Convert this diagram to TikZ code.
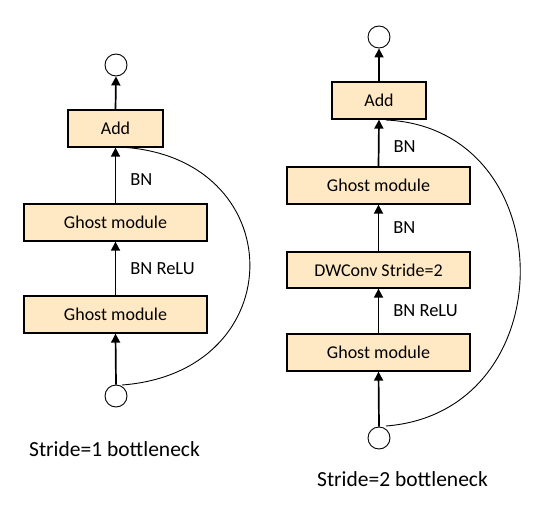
\documentclass[tikz,border=0pt]{standalone}
\usepackage{fontspec}
\setmainfont{Carlito}
\usetikzlibrary{arrows.meta}
\definecolor{boxfill}{HTML}{FFE9C4}
\begin{document}
\begin{tikzpicture}[x=1pt,y=-1pt,
  blockbox/.style={draw=black,line width=1.3pt,fill=boxfill,inner sep=0pt,font=\fontsize{18}{21}\selectfont},
  endcirc/.style={draw=black,line width=0.9pt,circle,minimum size=22pt,inner sep=0pt},
  flowarrow/.style={line width=1.7pt,-{Triangle[length=9pt,width=9pt]}},
  labeltext/.style={font=\fontsize{18.5}{22}\selectfont,anchor=west,inner sep=0pt},
  captiontext/.style={font=\fontsize{21.5}{25}\selectfont,inner sep=0pt},
  skipline/.style={line width=0.9pt}]
\useasboundingbox (0,0) rectangle (545,511);
% left bottleneck
\node[endcirc] (lout) at (116,65) {};
\node[blockbox,minimum width=95pt,minimum height=37pt] (ladd) at (115.5,128.5) {Add};
\node[blockbox,minimum width=183pt,minimum height=37pt] (lg1) at (115.5,222.5) {Ghost module};
\node[blockbox,minimum width=183pt,minimum height=37pt] (lg2) at (115.5,314.5) {Ghost module};
\node[endcirc] (lin) at (116,396) {};
\node[captiontext] (lcap) at (114.5,449) {Stride=1 bottleneck};
\draw[flowarrow] (lin.north) -- (lg2.south);
\draw[flowarrow] (lg2.north) -- node[labeltext,pos=0.5,xshift=14pt] (lbl2) {BN ReLU} (lg1.south);
\draw[flowarrow] (lg1.north) -- node[labeltext,pos=0.42,xshift=14pt] (lbl1) {BN} (ladd.south);
\draw[flowarrow] (ladd.north) -- (lout.south);
\coordinate (lstart) at (122,385);
\coordinate (lend) at (119,147);
\draw[skipline] (lstart) .. controls (294,372) and (292,155) .. (lend);
% right bottleneck
\node[endcirc] (rout) at (379,37) {};
\node[blockbox,minimum width=94pt,minimum height=37pt] (radd) at (379,100.5) {Add};
\node[blockbox,minimum width=183pt,minimum height=37pt] (rg1) at (378.5,185.5) {Ghost module};
\node[blockbox,minimum width=183pt,minimum height=36pt] (rdw) at (378.5,270) {DWConv Stride=2};
\node[blockbox,minimum width=183pt,minimum height=37pt] (rg2) at (378.5,352.5) {Ghost module};
\node[endcirc] (rin) at (379,438) {};
\node[captiontext] (rcap) at (402.5,479) {Stride=2 bottleneck};
\draw[flowarrow] (rin.north) -- (rg2.south);
\draw[flowarrow] (rg2.north) -- node[labeltext,pos=0.5,xshift=14pt] (rlbl3) {BN ReLU} (rdw.south);
\draw[flowarrow] (rdw.north) -- node[labeltext,pos=0.5,xshift=14pt] (rlbl2) {BN} (rg1.south);
\draw[flowarrow] (rg1.north) -- node[labeltext,pos=0.42,xshift=14pt] (rlbl1) {BN} (radd.south);
\draw[flowarrow] (radd.north) -- (rout.south);
\coordinate (rstart) at (386,426);
\coordinate (rend) at (386,120);
\draw[skipline] (rstart) .. controls (566,412) and (564,128) .. (rend);
\end{tikzpicture}
\end{document}
